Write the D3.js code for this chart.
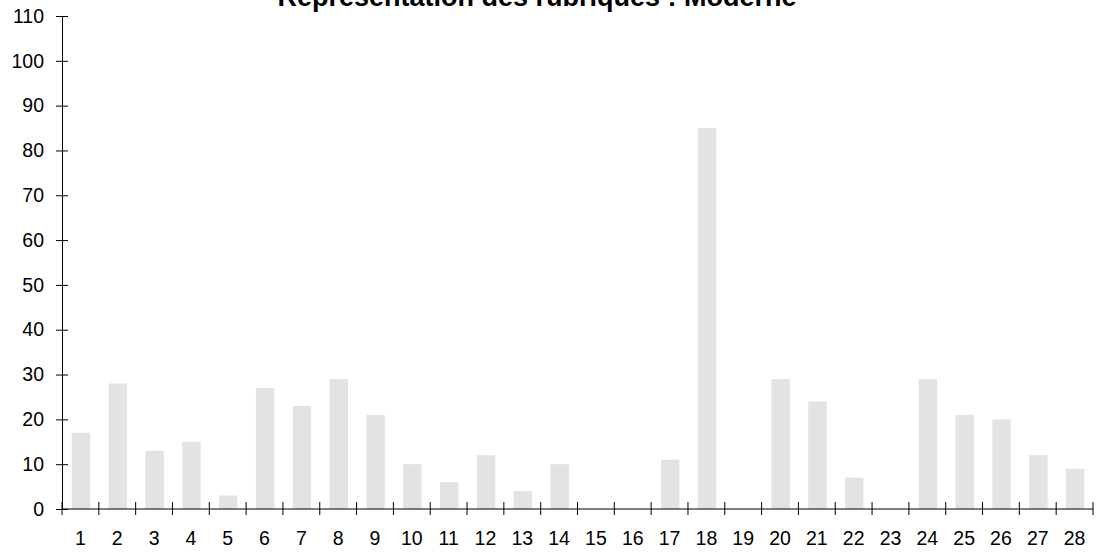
<!DOCTYPE html>
<html><head><meta charset="utf-8">
<script src="https://cdn.jsdelivr.net/npm/d3@7"></script>
<style>body{margin:0;background:#fff}svg{display:block}</style>
</head><body>
<svg id="c" width="1108" height="554"></svg>
<script>
const categories = ["1","2","3","4","5","6","7","8","9","10","11","12","13","14","15","16","17","18","19","20","21","22","23","24","25","26","27","28"];
const values = [17,28,13,15,3,27,23,29,21,10,6,12,4,10,0,0,11,85,0,29,24,7,0,29,21,20,12,9];
const yTicks = [0,10,20,30,40,50,60,70,80,90,100,110];
const title = "Représentation des rubriques : Moderne";

(function(){
const svg = d3.select("#c");
const mLeft = 62, mRight = 1093, mTop = 16, mBottom = 509;
const x = d3.scaleBand().domain(categories).range([mLeft, mRight]).paddingInner(0.5).paddingOuter(0.25);
const y = d3.scaleLinear().domain([0,110]).range([mBottom, mTop]);
const font = "Liberation Sans, Arial, sans-serif";

svg.append("g").selectAll("rect").data(values).join("rect")
  .attr("x", (d,i) => x(categories[i]) + 0.6)
  .attr("width", x.bandwidth())
  .attr("y", d => y(d))
  .attr("height", d => y(0) - y(d))
  .attr("fill", "#e3e3e3");

const ya = svg.append("g").attr("transform", `translate(${mLeft},0)`)
  .call(d3.axisLeft(y).tickValues(yTicks).tickSize(6).tickSizeOuter(0));
ya.select(".domain").attr("stroke","#000");
ya.selectAll(".tick line").attr("x1",-6).attr("x2",6).attr("stroke","#000");
ya.selectAll(".tick text").attr("x",-18).attr("font-family",font).attr("font-size",19.5).attr("fill","#000");

const xa = svg.append("g").attr("transform", `translate(0,${mBottom})`)
  .call(d3.axisBottom(x).tickSize(0).tickSizeOuter(0));
xa.select(".domain").attr("d", `M${mLeft},0H${mRight}`).attr("stroke","#000");
xa.selectAll(".tick text").attr("y",22.5).attr("font-family",font).attr("font-size",19.5).attr("fill","#000");
const edges = categories.map((c,i) => mLeft + i*x.step()).concat([mRight]);
xa.selectAll(".edge").data(edges).join("line").attr("class","edge")
  .attr("x1", d=>d).attr("x2", d=>d).attr("y1",-7).attr("y2",6).attr("stroke","#000");

svg.append("text").attr("x", 537).attr("y", 6).attr("text-anchor","middle")
  .attr("font-family",font).attr("font-weight","bold").attr("font-size",27).text(title);
})();
</script>
</body></html>
